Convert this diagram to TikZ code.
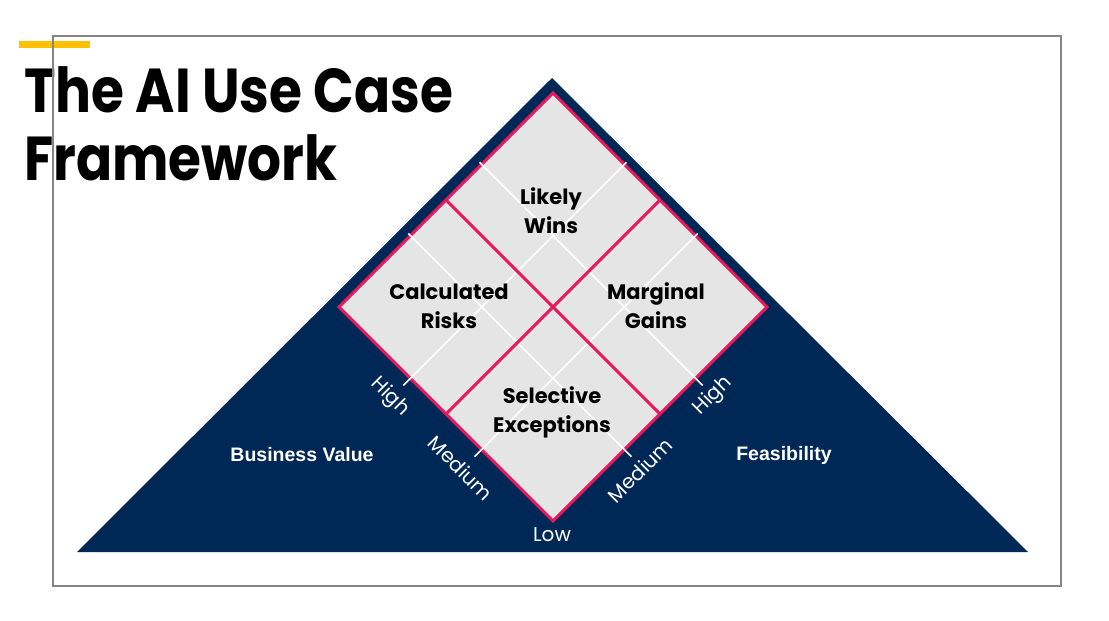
\documentclass[tikz,border=0pt]{standalone}
\usepackage{fontspec}
\setmainfont{Poppins}
\newfontfamily\helv{Liberation Sans}
\usetikzlibrary{calc}
\definecolor{navy}{HTML}{002856}
\definecolor{rosepink}{HTML}{E8185C}
\definecolor{cellgray}{HTML}{E5E5E5}
\definecolor{baryellow}{HTML}{FFC000}
\definecolor{framegray}{HTML}{858585}
\tikzset{
  titletext/.style={inner sep=0pt, anchor=base west, xscale=0.86, font=\bfseries\fontsize{62}{68}\selectfont, text=black},
  celltext/.style={inner sep=0pt, align=center, font=\bfseries\fontsize{21}{29}\selectfont, text=black},
  axistext/.style={inner sep=0pt, font=\fontsize{20}{22}\selectfont, text=white},
  sidetext/.style={inner sep=0pt, font=\helv\bfseries\fontsize{19.5}{22}\selectfont, text=white},
  whiteline/.style={draw=white, line width=1.6pt},
  pinkline/.style={draw=rosepink, line width=3pt},
}
\begin{document}
\begin{tikzpicture}[x=1pt,y=-1pt]
\useasboundingbox (0,0) rectangle (1109,621);
\fill[white] (0,0) rectangle (1109,621);

% title
\fill[baryellow] (19,41) rectangle (90,48);
\node[titletext] (title1) at (24,112) {The AI Use Case};
\node[titletext] (title2) at (24,180) {Framework};

% frame
\draw[framegray, line width=1.2pt] (53,36) rectangle (1061,586);

% navy triangle
\coordinate (apex) at (552,78);
\coordinate (bl) at (77,552);
\coordinate (br) at (1028,552);
\fill[navy] (apex) -- (br) -- (bl) -- cycle;

% diamond
\coordinate (T) at (553,93);
\coordinate (L) at (339,307);
\coordinate (R) at (767,307);
\coordinate (B) at (553,521);
\filldraw[fill=cellgray, pinkline, line join=miter] (T) -- (R) -- (B) -- (L) -- cycle;

% white thirds lines
\coordinate (a1) at ($(T)!1/3!(L)$);
\coordinate (b1) at ($(R)!1/3!(B)$);
\coordinate (a2) at ($(T)!2/3!(L)$);
\coordinate (b2) at ($(R)!2/3!(B)$);
\coordinate (c1) at ($(T)!1/3!(R)$);
\coordinate (d1) at ($(L)!1/3!(B)$);
\coordinate (c2) at ($(T)!2/3!(R)$);
\coordinate (d2) at ($(L)!2/3!(B)$);
\draw[whiteline] ($(a1)!-3pt!(b1)$) -- ($(b1)!-10pt!(a1)$);
\draw[whiteline] ($(a2)!-3pt!(b2)$) -- ($(b2)!-10pt!(a2)$);
\draw[whiteline] ($(c1)!-3pt!(d1)$) -- ($(d1)!-10pt!(c1)$);
\draw[whiteline] ($(c2)!-3pt!(d2)$) -- ($(d2)!-10pt!(c2)$);

% pink halves lines
\draw[pinkline] ($(T)!.5!(L)$) -- ($(R)!.5!(B)$);
\draw[pinkline] ($(L)!.5!(B)$) -- ($(T)!.5!(R)$);

% cell labels
\node[celltext] (wins) at (551,211) {Likely\\Wins};
\node[celltext] (risks) at (449,306) {Calculated\\Risks};
\node[celltext] (gains) at (656,306) {Marginal\\Gains};
\node[celltext] (except) at (552,412) {Selective\\Exceptions};

% axis labels
\node[axistext, rotate=-45] (lhigh) at (390,397) {High};
\node[axistext, rotate=-45] (lmed) at (461,468) {Medium};
\node[axistext, rotate=45] (rhigh) at (713,396) {High};
\node[axistext, rotate=45] (rmed) at (640,470) {Medium};
\node[axistext] (low) at (552,535) {Low};

% side labels
\node[sidetext] (bv) at (302,455) {Business Value};
\node[sidetext] (feas) at (784,455) {Feasibility};
\end{tikzpicture}
\end{document}
